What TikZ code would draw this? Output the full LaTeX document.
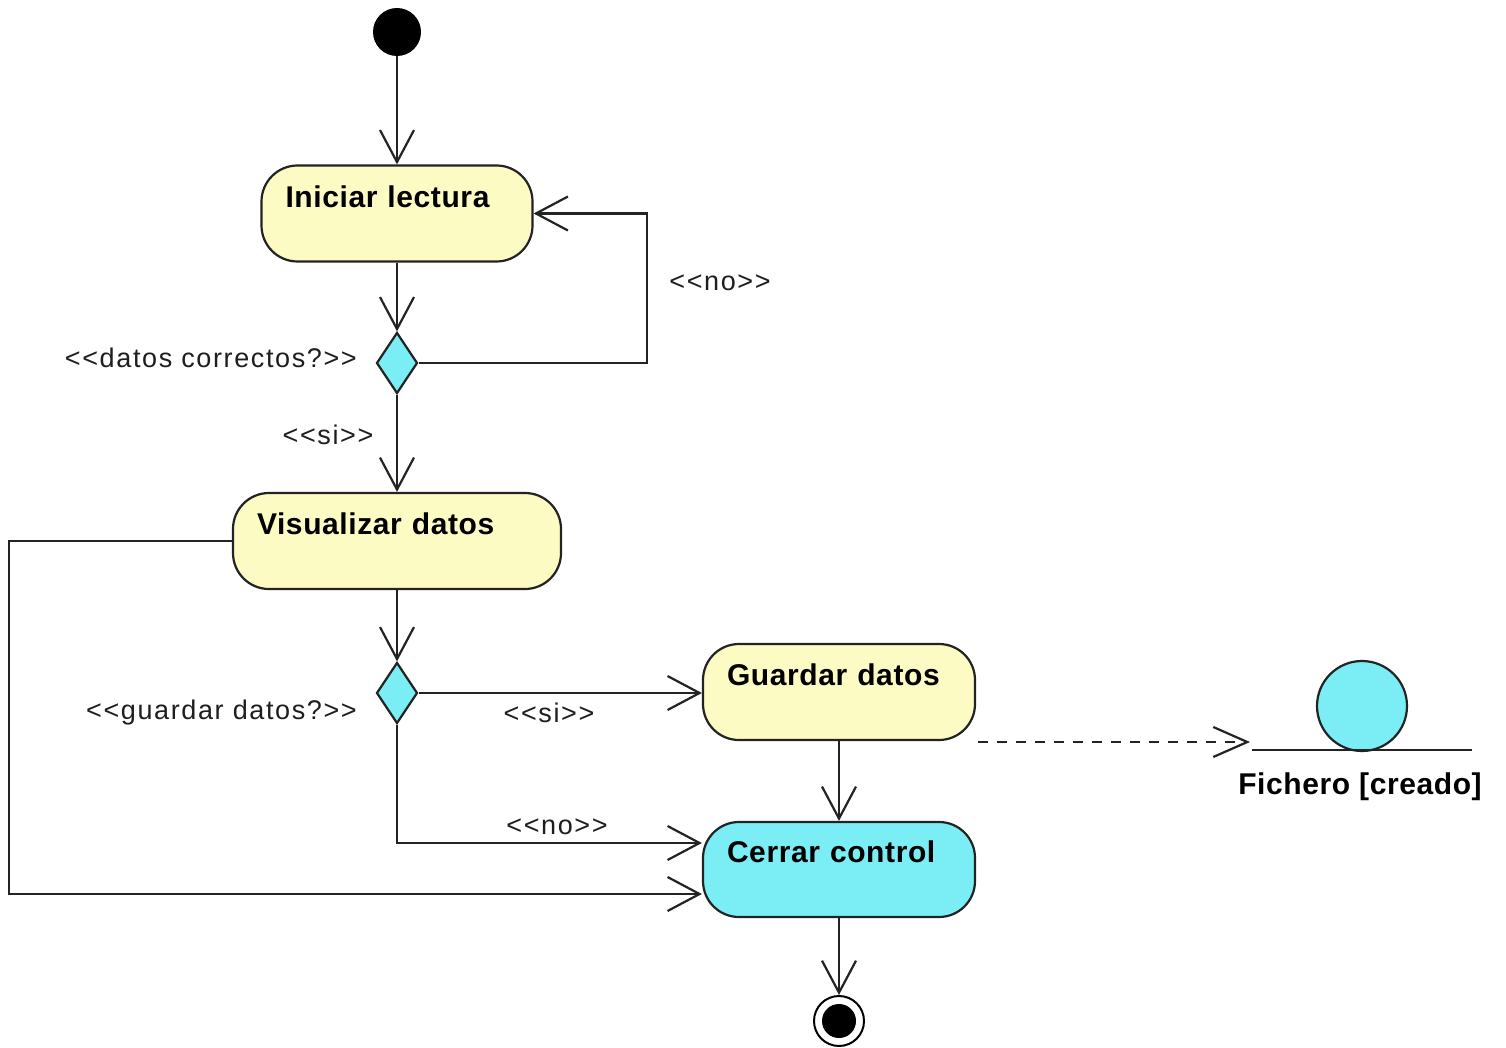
\documentclass[tikz,border=0pt]{standalone}
\usepackage{fontspec}
\setmainfont{Liberation Sans}
\newfontfamily\actfont{Liberation Sans}[LetterSpace=2,Ligatures=TeXOff]
\newfontfamily\lblfont{Liberation Sans}[LetterSpace=6,Ligatures=TeXOff]
\usetikzlibrary{arrows.meta,shapes.geometric,calc}

\definecolor{linec}{RGB}{35,35,35}
\definecolor{actfill}{RGB}{253,251,196}
\definecolor{cyanfill}{RGB}{122,238,244}
\definecolor{textc}{RGB}{30,30,30}

\tikzset{
  act/.style={draw=linec, fill=actfill, line width=2.2pt, rounded corners=36pt,
    inner xsep=24pt, inner ysep=0pt, align=left, text=black,
    font=\actfont\bfseries\fontsize{30}{32}\selectfont},
  decision/.style={diamond, draw=linec, fill=cyanfill, line width=2.2pt,
    minimum width=41pt, minimum height=61pt, inner sep=0pt},
  initial/.style={circle, fill=black, minimum size=48pt, inner sep=0pt},
  final/.style={circle, draw=black, fill=white, line width=2pt, minimum size=50pt,
    inner sep=0pt, path picture={\fill[black] (path picture bounding box.center) circle (17pt);}},
  flow/.style={draw=linec, line width=2.2pt, -{Straight Barb[length=32pt,width=34pt]}},
  depflow/.style={draw=linec, line width=2.2pt, dash pattern=on 10pt off 9pt,
    -{Straight Barb[length=34pt,width=30pt]}},
  lbl/.style={inner sep=0pt, text=textc, font=\lblfont\fontsize{27}{30}\selectfont},
  objlbl/.style={inner sep=0pt, text=black, font=\actfont\bfseries\fontsize{30}{32}\selectfont},
}

\begin{document}
\begin{tikzpicture}[x=1pt,y=-1pt]
  \fill[white] (0,0) rectangle (1506,1048);
  \useasboundingbox (0,0) rectangle (1506,1048);

  % activity nodes
  \node[initial] (start) at (397,32) {};
  \node[act, text width=223pt, text height=42pt, text depth=54pt] (ini) at (397,213.5) {Iniciar lectura};
  \node[decision] (dec1) at (397,363) {};
  \node[act, text width=280pt, text height=41pt, text depth=55pt] (vis) at (397,541) {Visualizar datos};
  \node[decision] (dec2) at (397,693) {};
  \node[act, text width=224pt, text height=41pt, text depth=55pt] (gua) at (839,692) {Guardar datos};
  \node[act, fill=cyanfill, text width=224pt, text height=40pt, text depth=55pt] (cer) at (839,869.5) {Cerrar control};
  \node[final] (fin) at (839,1021) {};

  % object node
  \node[circle, draw=linec, fill=cyanfill, line width=2.2pt, minimum size=90pt, inner sep=0pt] (fich) at (1362,706) {};
  \coordinate (objl) at (1252,750);
  \coordinate (objr) at (1472,750);
  \draw[draw=linec, line width=2.2pt] (objl) -- (objr);
  \node[objlbl] (fichlbl) at (1360,787) {Fichero [creado]};
  \coordinate (objin) at (1250,742);

  % control flows
  \draw[flow] (start) -- (ini);
  \draw[flow] (ini) -- (dec1);
  \draw[flow] (dec1.east) -- ++(228,0) |- (ini.east);
  \draw[flow] (dec1) -- (vis);
  \draw[flow] (vis) -- (dec2);
  \draw[flow] (dec2.east) -- (dec2.east -| gua.west);
  \draw[flow] (dec2.south) |- ($(cer.west)+(0,-26.5)$);
  \draw[flow] (vis.west) -- ++(-223,0) |- ($(cer.west)+(0,24.5)$);
  \draw[flow] (gua) -- (cer);
  \draw[flow] (cer) -- (fin);
  \draw[depflow] ($(gua.east |- objin)+(2,0)$) -- (objin);

  % guard and decision labels
  \node[lbl, anchor=east] (q1) at (357,358) {<<datos correctos?>>};
  \node[lbl] (no1) at (720,283) {<<no>>};
  \node[lbl] (si1) at (328,435) {<<si>>};
  \node[lbl, anchor=east] (q2) at (357,713) {<<guardar datos?>>};
  \node[lbl] (si2) at (549,713) {<<si>>};
  \node[lbl] (no2) at (557,827) {<<no>>};
\end{tikzpicture}
\end{document}
